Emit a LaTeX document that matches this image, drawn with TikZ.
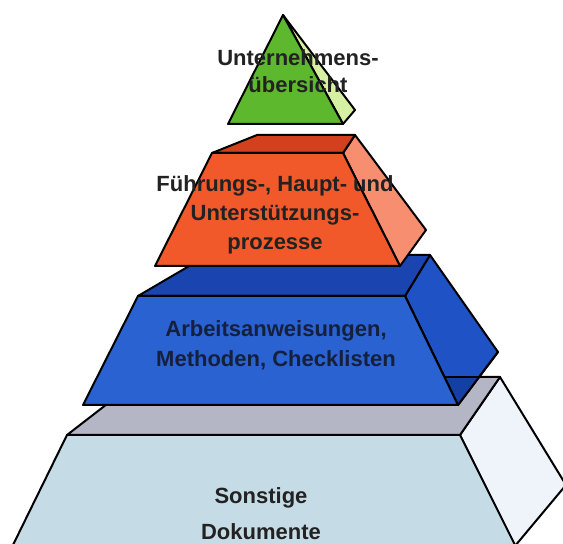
\documentclass[tikz,border=0pt]{standalone}
\usepackage{fontspec}
\setmainfont{Liberation Sans}
\definecolor{grF}{HTML}{5DB82E}
\definecolor{grR}{HTML}{D6EFA2}
\definecolor{orT}{HTML}{D2401E}
\definecolor{orF}{HTML}{F2592A}
\definecolor{orR}{HTML}{F88E70}
\definecolor{blT}{HTML}{1A45B0}
\definecolor{blF}{HTML}{2A62D2}
\definecolor{blR}{HTML}{1F52C4}
\definecolor{blD}{HTML}{1440A6}
\definecolor{gyT}{HTML}{B4B6C6}
\definecolor{ltF}{HTML}{C5DCE6}
\definecolor{ltR}{HTML}{EEF4FA}
\definecolor{txt}{HTML}{222222}
\definecolor{txtb}{HTML}{14203C}
\tikzset{
  face/.style={draw=black, line width=1pt, line join=round},
  lbl/.style={font=\bfseries, text=txt, align=center, inner sep=0pt}
}
\begin{document}
\begin{tikzpicture}[x=0.5pt,y=-0.5pt]
\useasboundingbox (0,0) rectangle (563,544);
\clip (0,0) rectangle (563,544);
\fill[white] (0,0) rectangle (563,544);
% bottom layer
\draw[face, fill=ltR] (460,435) -- (500,377) -- (566,485) -- (515,546) -- cycle;
\draw[face, fill=ltF] (67,435) -- (460,435) -- (516,547) -- (12,547) -- cycle;
\draw[face, fill=gyT] (67,435) -- (460,435) -- (500,377) -- (142,377) -- cycle;
% blue layer
\draw[face, fill=blR] (405,296) -- (430,255) -- (498,352) -- (458,405) -- cycle;
\fill[blD] (444,377) -- (479,377) -- (458,405) -- cycle;
\draw[line width=1pt] (444,377) -- (479,377);
\draw[face] (405,296) -- (458,405) -- (498,352);
\draw[face, fill=blT] (138,296) -- (405,296) -- (430,255) -- (208,255) -- cycle;
\draw[face, fill=blF] (138,296) -- (405,296) -- (458,405) -- (83,405) -- cycle;
% orange layer
\draw[face, fill=orR] (343,153) -- (355,135) -- (426,230) -- (400,266) -- cycle;
\draw[face, fill=orT] (212,153) -- (343,153) -- (355,135) -- (257,135) -- cycle;
\draw[face, fill=orF] (212,153) -- (343,153) -- (400,266) -- (155,266) -- cycle;
% green pyramid
\draw[face, fill=grR] (283,15) -- (355,110) -- (343,124) -- cycle;
\draw[face, fill=grF] (283,15) -- (228,124) -- (343,124) -- cycle;
% labels
\node[lbl, font=\bfseries\fontsize{11}{13.5}\selectfont] (t1) at (298,71) {Unternehmens-\\übersicht};
\node[lbl, font=\bfseries\fontsize{11}{14.5}\selectfont] (t2) at (275,215) {Führungs-, Haupt- und\\Unterstützungs-\\prozesse};
\node[lbl, text=txtb, font=\bfseries\fontsize{11}{15}\selectfont] (t3) at (276,345) {Arbeitsanweisungen,\\Methoden, Checklisten};
\node[lbl, font=\bfseries\fontsize{11}{18}\selectfont] (t4) at (261,514) {Sonstige\\Dokumente};
\end{tikzpicture}
\end{document}
